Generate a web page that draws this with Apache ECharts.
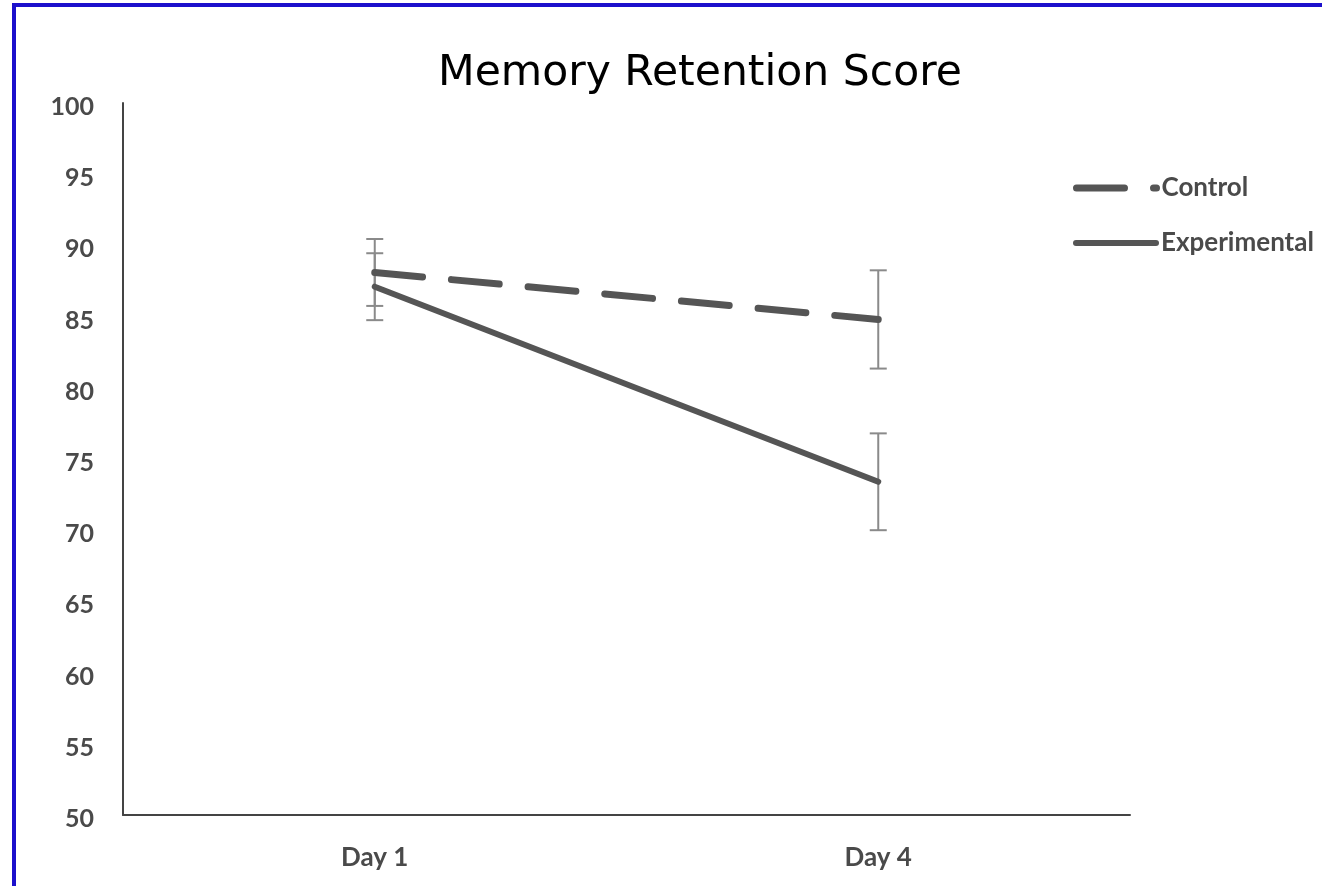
<!DOCTYPE html>
<html>
<head>
<meta charset="utf-8">
<script src="https://cdn.jsdelivr.net/npm/echarts@6/dist/echarts.min.js"></script>
<style>
  html, body { margin: 0; padding: 0; background: #fff; overflow: hidden; }
  #chart { position: absolute; left: 0; top: 0; width: 1322px; height: 886px; }
  #frame { position: absolute; left: 12px; top: 3px; width: 1400px; height: 1000px;
           border-top: 4px solid #1c10cc; border-left: 4px solid #1c10cc; pointer-events: none; }
</style>
</head>
<body>
<div id="chart"></div>
<div id="frame"></div>
<script>
// ---- data ----
const titleText = 'Memory Retention Score';
const categories = ['Day 1', 'Day 4'];
const seriesNames = ['Control', 'Experimental'];
const controlValues = [88.1, 84.8];
const experimentalValues = [87.1, 73.4];
const controlErrors = [2.35, 3.45];
const experimentalErrors = [2.35, 3.4];
const yTicks = { min: 50, max: 100, interval: 5 };

const lineColor = '#555555';
const errColor = '#8a8a8a';
const labelFont = 'Lato';

function errorData(values, errs) {
  return values.map((v, i) => [i, v - errs[i], v + errs[i]]);
}

function renderError(params, api) {
  const x = api.value(0);
  const lo = api.coord([x, api.value(1)]);
  const hi = api.coord([x, api.value(2)]);
  const half = 8.5;
  const style = { stroke: errColor, lineWidth: 2, fill: null };
  return {
    type: 'group',
    children: [
      { type: 'line', shape: { x1: hi[0], y1: hi[1], x2: lo[0], y2: lo[1] }, style },
      { type: 'line', shape: { x1: hi[0] - half, y1: hi[1], x2: hi[0] + half, y2: hi[1] }, style },
      { type: 'line', shape: { x1: lo[0] - half, y1: lo[1], x2: lo[0] + half, y2: lo[1] }, style }
    ]
  };
}

const chart = echarts.init(document.getElementById('chart'), null, { renderer: 'canvas' });

const legendText = { fontFamily: labelFont, fontWeight: 'bold', fontSize: 26, color: '#4a4a4a' };

chart.setOption({
  backgroundColor: '#ffffff',
  animation: false,
  title: {
    text: titleText,
    left: 433,
    top: 47,
    textStyle: { fontFamily: 'DejaVu Sans', fontWeight: 'normal', fontSize: 42.5, color: '#000' }
  },
  legend: [
    {
      data: [seriesNames[0]],
      left: 1073, top: 175, padding: 0,
      itemWidth: 80, itemHeight: 14,
      itemStyle: { color: 'transparent', borderWidth: 0 },
      lineStyle: { width: 7, type: [48, 29], cap: 'round', color: lineColor },
      textStyle: legendText
    },
    {
      data: [seriesNames[1]],
      left: 1073, top: 230, padding: 0,
      itemWidth: 80, itemHeight: 14,
      itemStyle: { color: 'transparent', borderWidth: 0 },
      lineStyle: { width: 6, type: 'solid', cap: 'round', color: lineColor },
      textStyle: legendText
    }
  ],
  grid: { left: 123, right: 192, top: 103, bottom: 71, containLabel: false },
  xAxis: {
    type: 'category',
    data: categories,
    boundaryGap: true,
    axisLine: { lineStyle: { color: '#444', width: 2 } },
    axisTick: { show: false },
    axisLabel: { margin: 30, fontFamily: labelFont, fontWeight: 'bold', fontSize: 26, color: '#4a4a4a' },
    splitLine: { show: false }
  },
  yAxis: {
    type: 'value',
    min: yTicks.min, max: yTicks.max, interval: yTicks.interval,
    axisLine: { show: true, lineStyle: { color: '#444', width: 2 } },
    axisTick: { show: false },
    axisLabel: { margin: 29, fontFamily: labelFont, fontWeight: 'bold', fontSize: 25, color: '#4a4a4a',
                 verticalAlign: 'top', lineHeight: 8 },
    splitLine: { show: false }
  },
  series: [
    {
      name: seriesNames[0],
      type: 'line',
      data: controlValues,
      symbol: 'none',
      lineStyle: { color: lineColor, width: 7, type: [48, 29], cap: 'round' },
      itemStyle: { color: lineColor },
      z: 3
    },
    {
      name: seriesNames[1],
      type: 'line',
      data: experimentalValues,
      symbol: 'none',
      lineStyle: { color: lineColor, width: 6, type: 'solid', cap: 'round' },
      itemStyle: { color: lineColor },
      z: 3
    },
    {
      name: 'controlErr',
      type: 'custom',
      renderItem: renderError,
      data: errorData(controlValues, controlErrors),
      encode: { x: 0, y: [1, 2] },
      z: 2
    },
    {
      name: 'experimentalErr',
      type: 'custom',
      renderItem: renderError,
      data: errorData(experimentalValues, experimentalErrors),
      encode: { x: 0, y: [1, 2] },
      z: 2
    }
  ]
});
</script>
</body>
</html>
